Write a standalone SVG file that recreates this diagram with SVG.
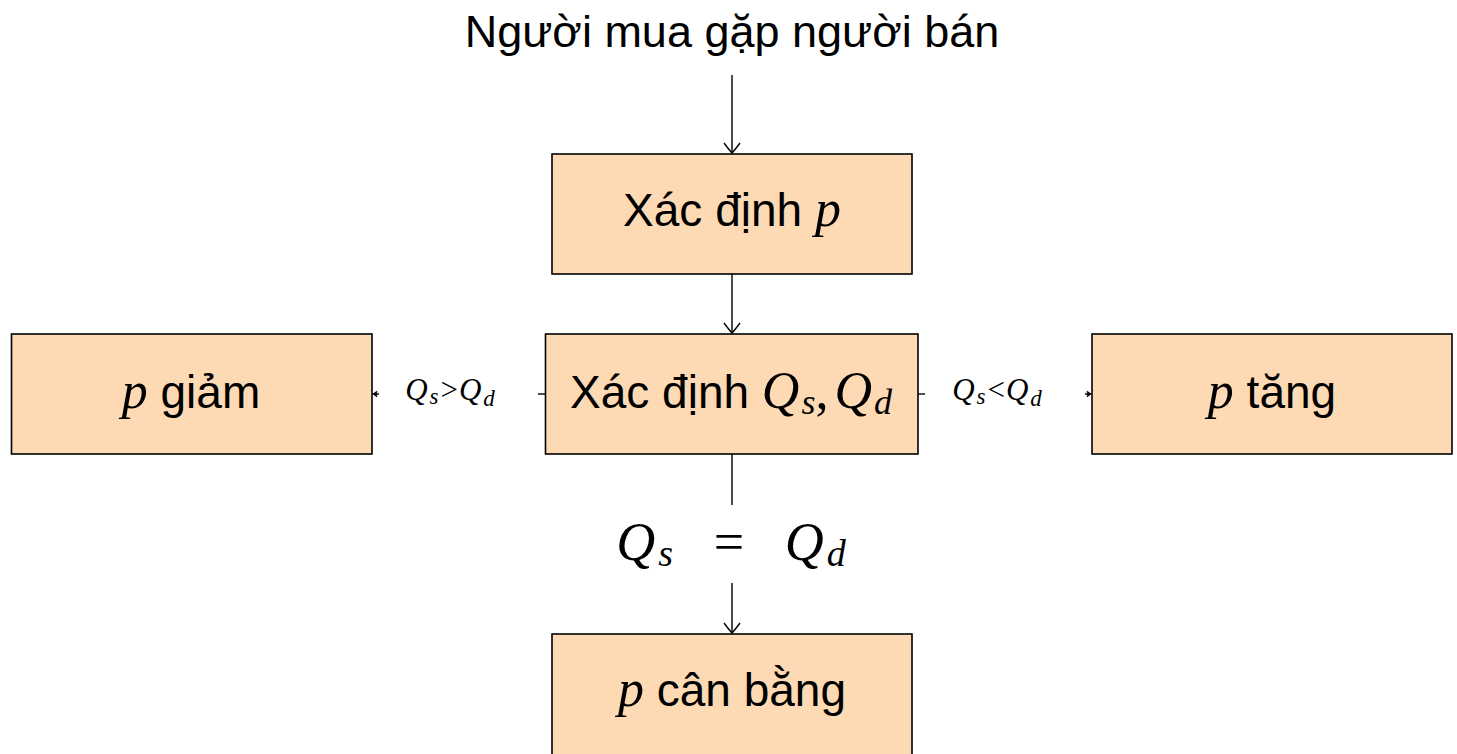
<svg xmlns="http://www.w3.org/2000/svg" width="1457" height="754" viewBox="0 0 1457 754">
<style>
.box{fill:#FDD9B4;stroke:#000;stroke-width:1.6}
.t{font-family:"Liberation Sans",Arial,sans-serif;fill:#000}
.m{font-family:"Liberation Serif","Times New Roman",serif;font-style:italic}
.n{font-family:"Liberation Serif","Times New Roman",serif;font-style:normal}
.c{fill:none;stroke:#000;stroke-width:1.4}
</style>
<defs>
<marker id="arr" markerUnits="userSpaceOnUse" viewBox="-12 -10 14 20" markerWidth="14" markerHeight="20" refX="0" refY="0" orient="auto" overflow="visible">
<path d="M-10,-8 Q-2,-2 0,0 Q-2,2 -10,8" fill="none" stroke="#000" stroke-width="1.4"/>
</marker>
<marker id="arrs" markerUnits="userSpaceOnUse" viewBox="-6 -4 7 8" markerWidth="7" markerHeight="8" refX="0" refY="0" orient="auto" overflow="visible">
<path d="M-4,-3 Q-1,-0.8 0,0 Q-1,0.8 -4,3 Q-3,0 -4,-3Z" fill="#000" stroke="#000" stroke-width="0.6"/>
</marker>
</defs>
<text class="t" x="732" y="47" font-size="45" text-anchor="middle">Người mua gặp người bán</text>
<g id="connectors">
<line class="c" x1="732" y1="75" x2="732" y2="153" marker-end="url(#arr)"/>
<line class="c" x1="732" y1="274" x2="732" y2="333" marker-end="url(#arr)"/>
<line class="c" x1="545" y1="394" x2="538" y2="394"/>
<line class="c" x1="379" y1="394" x2="373" y2="394" marker-end="url(#arrs)"/>
<text x="450" y="400" font-size="31" text-anchor="middle" class="n"><tspan class="m">Q</tspan><tspan class="m" font-size="23" dy="4" dx="2">s</tspan><tspan dy="-4" dx="2">&gt;</tspan><tspan class="m" dx="1">Q</tspan><tspan class="m" font-size="23" dy="6" dx="2">d</tspan></text>
<line class="c" x1="918" y1="394" x2="925" y2="394"/>
<line class="c" x1="1085" y1="394" x2="1091" y2="394" marker-end="url(#arrs)"/>
<text x="997" y="400" font-size="31" text-anchor="middle" class="n"><tspan class="m">Q</tspan><tspan class="m" font-size="23" dy="4" dx="2">s</tspan><tspan dy="-4" dx="2">&lt;</tspan><tspan class="m" dx="1">Q</tspan><tspan class="m" font-size="23" dy="6" dx="2">d</tspan></text>
<line class="c" x1="732" y1="454" x2="732" y2="505"/>
<line class="c" x1="732" y1="583" x2="732" y2="633" marker-end="url(#arr)"/>
<text x="731" y="560" font-size="54" text-anchor="middle" class="n"><tspan class="m">Q</tspan><tspan class="m" font-size="38" dy="6" dx="3">s</tspan><tspan dy="-6" xml:space="preserve">   =   </tspan><tspan class="m">Q</tspan><tspan class="m" font-size="38" dy="6" dx="3">d</tspan></text>
</g>
<g id="node-xacdinh-p">
<rect class="box" x="552" y="154" width="360" height="120"/>
<text class="t" x="732" y="226" font-size="46" text-anchor="middle">Xác định <tspan class="m" font-size="52">p</tspan></text>
</g>
<g id="node-xacdinh-q">
<rect class="box" x="545.5" y="334" width="372.5" height="120"/>
<text class="t" x="731" y="408" font-size="46" text-anchor="middle">Xác định <tspan class="m" font-size="52">Q</tspan><tspan class="m" font-size="36" dy="6" dx="2">s</tspan><tspan class="n" font-size="52" dy="-6">,</tspan><tspan class="m" font-size="52" dx="6">Q</tspan><tspan class="m" font-size="36" dy="6" dx="2">d</tspan></text>
</g>
<g id="node-p-giam">
<rect class="box" x="11.5" y="334" width="360.5" height="120"/>
<text class="t" x="191" y="408" font-size="46" text-anchor="middle"><tspan class="m" font-size="52">p</tspan> giảm</text>
</g>
<g id="node-p-tang">
<rect class="box" x="1092" y="334" width="360" height="120"/>
<text class="t" x="1272" y="408" font-size="46" text-anchor="middle"><tspan class="m" font-size="52">p</tspan> tăng</text>
</g>
<g id="node-p-canbang">
<rect class="box" x="552" y="634" width="360" height="130"/>
<text class="t" x="732" y="706" font-size="46" text-anchor="middle"><tspan class="m" font-size="52">p</tspan> cân bằng</text>
</g>
</svg>
